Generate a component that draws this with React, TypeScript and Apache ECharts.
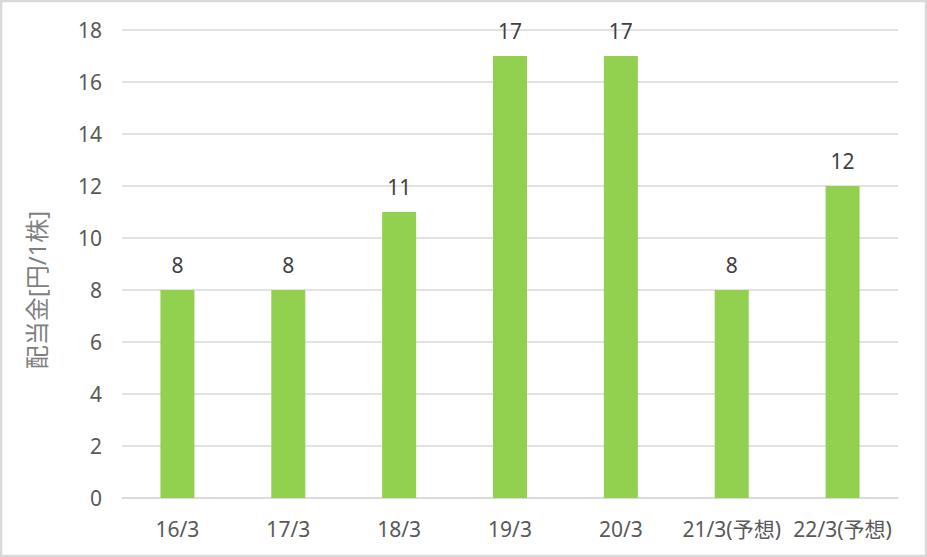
import React, { useEffect, useRef } from "react";
import * as echarts from "echarts";

const categories = ["16/3", "17/3", "18/3", "19/3", "20/3", "21/3(予想)", "22/3(予想)"];
const dividends = [8, 8, 11, 17, 17, 8, 12];
const yTicks = { min: 0, max: 18, interval: 2 };
const yAxisTitle = "配当金[円/1株]";

const FONT = "'Noto Sans', 'Noto Sans CJK JP', sans-serif";

export default function App() {
  const ref = useRef<HTMLDivElement>(null);
  useEffect(() => {
    document.body.style.margin = "0";
    const chart = echarts.init(ref.current!, null, { renderer: "svg" });
    chart.setOption({
      animation: false,
      backgroundColor: "#ffffff",
      grid: { left: 122, right: 29, top: 30, bottom: 59 },
      graphic: [
        {
          type: "rect",
          shape: { x: 1, y: 1, width: 925, height: 555 },
          style: { fill: "none", stroke: "#d9d9d9", lineWidth: 2.5 },
          silent: true,
        },
        {
          type: "text",
          x: 36,
          y: 290,
          rotation: Math.PI / 2,
          silent: true,
          style: {
            text: yAxisTitle,
            fill: "#7f7f7f",
            fontSize: 24,
            fontFamily: FONT,
            textAlign: "center",
            textVerticalAlign: "middle",
          },
        },
      ],
      xAxis: {
        type: "category",
        data: categories,
        axisLine: { lineStyle: { color: "#d9d9d9", width: 1.5 } },
        axisTick: { show: false },
        axisLabel: { color: "#595959", fontSize: 21, fontFamily: FONT, margin: 20, interval: 0 },
      },
      yAxis: {
        type: "value",
        min: yTicks.min,
        max: yTicks.max,
        interval: yTicks.interval,
        axisLine: { show: false },
        axisTick: { show: false },
        axisLabel: { color: "#595959", fontSize: 21, fontFamily: FONT, margin: 20 },
        splitLine: { lineStyle: { color: "#d9d9d9", width: 1.5 } },
      },
      series: [
        {
          type: "bar",
          data: dividends,
          barWidth: 34,
          itemStyle: { color: "#92d050" },
          label: {
            show: true,
            position: "top",
            distance: 15,
            color: "#404040",
            fontSize: 21,
            fontFamily: FONT,
          },
        },
      ],
    });
    return () => chart.dispose();
  }, []);
  return <div ref={ref} style={{ width: 927, height: 557 }} />;
}
